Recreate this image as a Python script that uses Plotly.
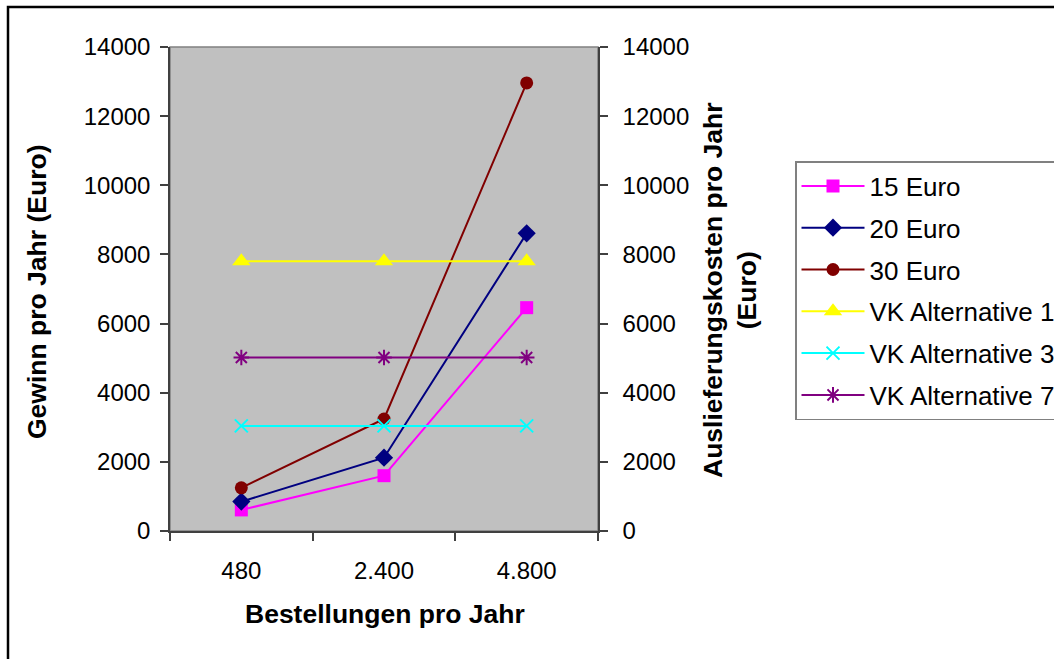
import plotly.graph_objects as go

# Bestellungen pro Jahr (Kategorien)
categories = ["480", "2.400", "4.800"]

# Gewinn pro Jahr (Euro) je Preis
gewinn_15 = [610, 1600, 6460]
gewinn_20 = [850, 2120, 8610]
gewinn_30 = [1250, 3240, 12960]

# Auslieferungskosten pro Jahr (Euro) je Alternative
vk_alt1 = [7800, 7800, 7800]
vk_alt3 = [3040, 3040, 3040]
vk_alt7 = [5020, 5020, 5020]

tick_vals = [0, 2000, 4000, 6000, 8000, 10000, 12000, 14000]
tick_text = ["0", "2000", "4000", "6000", "8000", "10000", "12000", "14000"]

FONT = "Liberation Sans, Arial, sans-serif"
W, H = 1054, 659
L, R, T, B = 170, 598, 47, 531


def px(x):
    return (x - L) / (R - L)


def py(y):
    return (B - y) / (B - T)


fig = go.Figure()

series = [
    ("15 Euro", gewinn_15, "#FF00FF", dict(symbol="square", size=13), "y"),
    ("20 Euro", gewinn_20, "#000080", dict(symbol="diamond", size=14), "y"),
    ("30 Euro", gewinn_30, "#800000", dict(symbol="circle", size=13), "y"),
    ("VK Alternative 1", vk_alt1, "#FFFF00", dict(symbol="triangle-up", size=16), "y2"),
    ("VK Alternative 3", vk_alt3, "#00FFFF",
     dict(symbol="x-thin-open", size=13, line=dict(width=2)), "y2"),
    ("VK Alternative 7", vk_alt7, "#800080",
     dict(symbol="asterisk-open", size=13, line=dict(width=2)), "y2"),
]

for name, vals, color, marker, axis in series:
    m = dict(color=color, **marker)
    if "line" in m:
        m["line"] = dict(color=color, width=marker["line"]["width"])
    fig.add_trace(go.Scatter(
        x=categories, y=vals, name=name, mode="lines+markers",
        line=dict(color=color, width=2), marker=m, yaxis=axis,
        legendgroup=name,
    ))

axis_common = dict(
    range=[0, 14000], tickvals=tick_vals, ticktext=tick_text,
    ticks="outside", ticklen=8, tickwidth=1.5, tickcolor="#404040",
    showline=True, linecolor="#404040", linewidth=1.5,
    showgrid=False, zeroline=False,
    tickfont=dict(family=FONT, size=24, color="black"),
)

fig.update_layout(
    width=W, height=H,
    margin=dict(l=L, r=W - R, t=T, b=H - B, pad=0, autoexpand=False),
    paper_bgcolor="white", plot_bgcolor="#C0C0C0",
    font=dict(family=FONT, size=24, color="black"),
    showlegend=True,
    legend=dict(
        x=px(795), y=py(161), xanchor="left", yanchor="top",
        bordercolor="#808080", borderwidth=1.5, bgcolor="white",
        font=dict(family=FONT, size=26, color="black"),
        tracegroupgap=5, itemwidth=63,
    ),
    xaxis=dict(
        type="category", range=[-0.5, 2.5], tickson="boundaries",
        ticks="outside", ticklen=8, tickwidth=1.5, tickcolor="#404040",
        showline=True, linecolor="#404040", linewidth=1.5,
        showgrid=False, zeroline=False,
        tickfont=dict(family=FONT, size=24, color="black"),
        ticklabelstandoff=17,
    ),
    yaxis=dict(side="left", ticklabelstandoff=5, **axis_common),
    yaxis2=dict(side="right", overlaying="y", ticklabelstandoff=10, **axis_common),
)

# Achsentitel
TITLE_SIZE = 26.5
fig.add_annotation(
    text="<b>Gewinn pro Jahr (Euro)</b>", xref="paper", yref="paper",
    x=px(37), y=py(292), textangle=-90, showarrow=False,
    xanchor="center", yanchor="middle", font=dict(family=FONT, size=TITLE_SIZE),
)
fig.add_annotation(
    text="<b>Auslieferungskosten pro Jahr<br>(Euro)</b>", xref="paper", yref="paper",
    x=px(730), y=py(290), textangle=-90, showarrow=False,
    xanchor="center", yanchor="middle", font=dict(family=FONT, size=TITLE_SIZE),
)
fig.add_annotation(
    text="<b>Bestellungen pro Jahr</b>", xref="paper", yref="paper",
    x=px(385), y=py(614), showarrow=False,
    xanchor="center", yanchor="middle", font=dict(family=FONT, size=TITLE_SIZE),
)

# Rahmen des Plotbereichs und äußerer Diagrammrahmen
fig.add_shape(type="rect", xref="paper", yref="paper", x0=0, x1=1, y0=0, y1=1,
              line=dict(color="#808080", width=1.5), layer="below")
fig.add_shape(type="rect", xref="paper", yref="paper",
              x0=px(8), x1=px(1070), y0=py(680), y1=py(7),
              line=dict(color="black", width=2.5))

fig.write_html("out.html")
